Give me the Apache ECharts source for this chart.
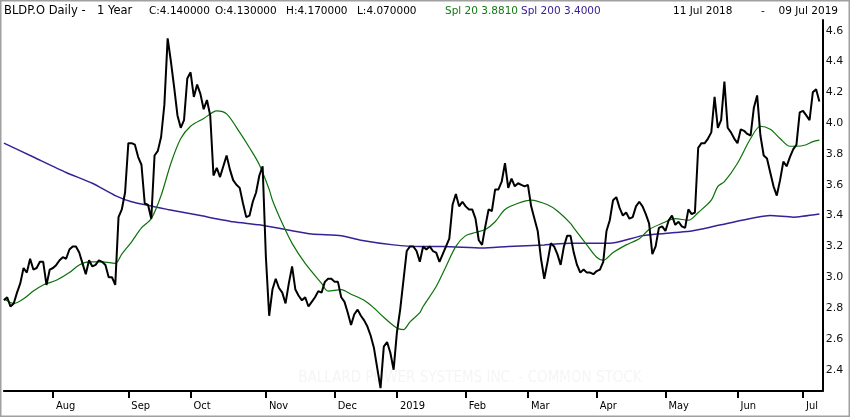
<!DOCTYPE html>
<html>
<head>
<meta charset="utf-8">
<script src="https://cdn.jsdelivr.net/npm/echarts@6/dist/echarts.min.js"></script>
<style>
html, body { margin: 0; padding: 0; background: #fff; }
#main { width: 850px; height: 417px; }
</style>
</head>
<body>
<div id="main"></div>
<script>
// 交易日：2018-07-11 ~ 2019-07-09，去掉周末和休市日
var startDay = '2018-07-11';
var endDay = '2019-07-10'; // 最后多留一格，让线条贴近右边的轴
var holidays = ['2018-09-03','2018-11-22','2018-12-05','2018-12-25','2019-01-01',
    '2019-01-21','2019-02-18','2019-04-19','2019-05-27','2019-07-04'];
// 1月显示年份
var monthLabels = ['2019','Feb','Mar','Apr','May','Jun','Jul','Aug','Sep','Oct','Nov','Dec'];

// 收盘价
var closes = [
    2.85, 2.87, 2.81, 2.83, 2.90, 2.96, 3.06, 3.03, 3.12, 3.05,
    3.06, 3.10, 3.10, 2.95, 3.05, 3.06, 3.08, 3.11, 3.13, 3.12,
    3.18, 3.20, 3.20, 3.16, 3.09, 3.02, 3.11, 3.07, 3.08, 3.11,
    3.10, 3.08, 3.00, 3.00, 2.95, 3.39, 3.44, 3.55, 3.87, 3.87,
    3.86, 3.78, 3.73, 3.48, 3.47, 3.38, 3.79, 3.82, 3.91, 4.12,
    4.55, 4.40, 4.23, 4.05, 3.97, 4.02, 4.29, 4.33, 4.17, 4.25,
    4.19, 4.09, 4.15, 4.05, 3.66, 3.71, 3.65, 3.72, 3.79, 3.70,
    3.63, 3.60, 3.58, 3.48, 3.39, 3.40, 3.49, 3.55, 3.66, 3.72,
    3.13, 2.75, 2.92, 2.99, 2.93, 2.90, 2.83, 2.96, 3.07, 2.92,
    2.88, 2.85, 2.87, 2.81, 2.84, 2.87, 2.91, 2.90, 2.97, 2.99,
    2.99, 2.97, 2.97, 2.87, 2.84, 2.77, 2.69, 2.76, 2.79, 2.75,
    2.72, 2.68, 2.62, 2.54, 2.41, 2.28, 2.55, 2.58, 2.51, 2.40,
    2.64, 2.79, 2.98, 3.17, 3.20, 3.20, 3.17, 3.10, 3.20, 3.18,
    3.20, 3.17, 3.16, 3.10, 3.15, 3.20, 3.25, 3.47, 3.54, 3.46,
    3.49, 3.46, 3.44, 3.44, 3.38, 3.24, 3.21, 3.33, 3.44, 3.43,
    3.57, 3.57, 3.62, 3.74, 3.58, 3.64, 3.59, 3.61, 3.60, 3.59,
    3.60, 3.46, 3.38, 3.30, 3.12, 2.99, 3.10, 3.22, 3.20, 3.15,
    3.08, 3.20, 3.27, 3.27, 3.16, 3.08, 3.03, 3.05, 3.03, 3.03,
    3.02, 3.04, 3.05, 3.10, 3.30, 3.37, 3.50, 3.52, 3.45, 3.40,
    3.42, 3.38, 3.39, 3.46, 3.49, 3.46, 3.41, 3.35, 3.15, 3.20,
    3.32, 3.33, 3.30, 3.37, 3.40, 3.34, 3.36, 3.33, 3.32, 3.44,
    3.41, 3.42, 3.84, 3.87, 3.87, 3.90, 3.94, 4.17, 3.97, 4.02,
    4.27, 3.97, 3.94, 3.90, 3.87, 3.96, 3.95, 3.93, 3.92, 4.10,
    4.18, 3.92, 3.79, 3.77, 3.68, 3.59, 3.53, 3.63, 3.75, 3.72,
    3.78, 3.83, 3.86, 4.07, 4.08, 4.05, 4.02, 4.20, 4.22, 4.14
];

// 20日均线（按交易日序号取点）
var sma20Day = [0, 3, 6, 9, 12, 16, 20, 23, 26, 30, 34, 36, 39, 42, 45, 48, 51, 54, 57, 61,
    65, 68, 72, 75, 78, 81, 82, 85, 88, 92, 97, 99, 103, 106, 110, 113, 116, 120, 122, 124,
    127, 128, 132, 135, 138, 141, 144, 147, 150, 153, 157, 161, 166, 169, 173, 174, 178, 181, 183, 186,
    190, 194, 197, 201, 205, 209, 212, 216, 218, 220, 224, 228, 231, 234, 237, 240, 242, 245, 247, 249];
var sma20 = [2.86, 2.83, 2.86, 2.91, 2.95, 2.98, 3.03, 3.08, 3.10, 3.10, 3.09, 3.15, 3.23, 3.32, 3.38, 3.53, 3.74, 3.90, 3.98, 4.03,
    4.08, 4.06, 3.94, 3.84, 3.73, 3.57, 3.50, 3.35, 3.22, 3.09, 2.96, 2.91, 2.92, 2.89, 2.85, 2.80, 2.74, 2.67, 2.66, 2.71,
    2.77, 2.81, 2.94, 3.07, 3.20, 3.27, 3.29, 3.31, 3.36, 3.44, 3.48, 3.50, 3.47, 3.43, 3.35, 3.32, 3.21, 3.13, 3.11, 3.16,
    3.21, 3.25, 3.31, 3.35, 3.38, 3.37, 3.42, 3.50, 3.59, 3.62, 3.74, 3.90, 3.98, 3.96, 3.90, 3.85, 3.85, 3.86, 3.88, 3.89];

// 200日均线
var sma200Day = [0, 9, 19, 27, 34, 39, 50, 60, 70, 78, 86, 94, 103, 109, 119, 127, 134, 146, 154, 165,
    173, 185, 195, 205, 210, 219, 234, 241, 249];
var sma200 = [3.87, 3.78, 3.68, 3.61, 3.53, 3.49, 3.44, 3.40, 3.36, 3.34, 3.31, 3.28, 3.27, 3.24, 3.21, 3.20, 3.20, 3.19, 3.20, 3.21,
    3.22, 3.22, 3.27, 3.29, 3.30, 3.34, 3.40, 3.39, 3.41];

function pad(n){
    return n < 10 ? '0' + n : '' + n;
}

// 生成交易日列表
function tradingDays(){
    var days = [];
    var d = new Date(startDay + 'T12:00:00Z');
    var end = new Date(endDay + 'T12:00:00Z');
    while(d <= end){
        var wd = d.getUTCDay();
        var s = d.getUTCFullYear() + '-' + pad(d.getUTCMonth() + 1) + '-' + pad(d.getUTCDate());
        if(wd != 0 && wd != 6 && holidays.indexOf(s) < 0){
            days.push(s);
        }
        d.setUTCDate(d.getUTCDate() + 1);
    }
    return days;
}

function pairs(xs, ys){
    var arr = [];
    xs.forEach(function(x, i){
        arr.push([x, ys[i]]);
    });
    return arr;
}

var days = tradingDays();

// 每月第一个交易日
function isMonthStart(index){
    if(index == 0) return false;
    return days[index].substr(5, 2) != days[index - 1].substr(5, 2);
}

var myChart = echarts.init(document.getElementById('main'));

var headY = 11;

function headText(x, text, color, size, align){
    return {
        type: 'text', x: x, y: headY, silent: true,
        style: { text: text, fill: color, font: size + 'px DejaVu Sans', textAlign: align || 'left', textVerticalAlign: 'middle' }
    };
}

var option = {
    animation: false,
    backgroundColor: '#fff',
    grid: {
        left: 3.9,
        right: 27.35,
        top: 20,
        bottom: 26,
        containLabel: false
    },
    xAxis: {
        type: 'category',
        data: days,
        boundaryGap: false,
        axisLine: { show: true, lineStyle: { color: '#000', width: 2 } },
        axisTick: {
            show: true,
            interval: function(index){ return isMonthStart(index); },
            length: 7,
            inside: false,
            lineStyle: { color: '#000', width: 2 }
        },
        axisLabel: {
            interval: function(index){ return isMonthStart(index); },
            formatter: function(value){
                return monthLabels[Number(value.substr(5, 2)) - 1];
            },
            align: 'left',
            padding: [0, 0, 0, 3],
            margin: 10,
            color: '#000',
            fontSize: 11,
            fontFamily: "'DejaVu Sans Condensed', 'DejaVu Sans'"
        },
        splitLine: { show: false }
    },
    yAxis: {
        type: 'value',
        position: 'right',
        min: 2.2617,
        max: 4.6694,
        splitNumber: 12,
        axisLine: { show: true, lineStyle: { color: '#000', width: 2 } },
        axisTick: { show: false },
        axisLabel: {
            showMinLabel: false,
            showMaxLabel: false,
            margin: 3,
            color: '#111',
            fontSize: 11,
            fontFamily: 'DejaVu Sans',
            formatter: function(v){ return v.toFixed(1); }
        },
        splitLine: { show: false }
    },
    graphic: [
        { type: 'rect', shape: { x: 0.5, y: 0.5, width: 849, height: 416 },
          style: { fill: 'none', stroke: '#a0a0a0', lineWidth: 2 }, silent: true },
        { type: 'text', x: 470, y: 378, silent: true, z: -1,
          style: { text: 'BALLARD POWER SYSTEMS INC. - COMMON STOCK', fill: '#f5f5f5',
                   font: "15px 'DejaVu Sans Condensed', 'DejaVu Sans'", textAlign: 'center', textVerticalAlign: 'middle' } },
        headText(4, 'BLDP.O Daily -', '#000', 11.5),
        headText(97, '1 Year', '#000', 11.5),
        headText(149, 'C:4.140000', '#000', 10.5),
        headText(215, 'O:4.130000', '#000', 10.5),
        headText(286, 'H:4.170000', '#000', 10.5),
        headText(357, 'L:4.070000', '#000', 10.5),
        headText(445, 'Spl 20 3.8810', '#137a13', 10.5),
        headText(521, 'Spl 200 3.4000', '#3a2096', 10.5),
        headText(673, '11 Jul 2018', '#000', 10.5),
        headText(761, '-', '#000', 10.5),
        headText(838, '09 Jul 2019', '#000', 10.5, 'right')
    ],
    series: [
        {
            name: 'Spl 200',
            type: 'line',
            data: pairs(sma200Day, sma200),
            showSymbol: false,
            smooth: 0.2,
            lineStyle: { color: '#3a2096', width: 1.5 }
        },
        {
            name: 'Spl 20',
            type: 'line',
            data: pairs(sma20Day, sma20),
            showSymbol: false,
            smooth: 0.3,
            lineStyle: { color: '#0a720a', width: 1.2 }
        },
        {
            name: 'Close',
            type: 'line',
            data: closes,
            showSymbol: false,
            lineStyle: { color: '#000', width: 2 }
        }
    ]
};

myChart.setOption(option);
</script>
</body>
</html>
